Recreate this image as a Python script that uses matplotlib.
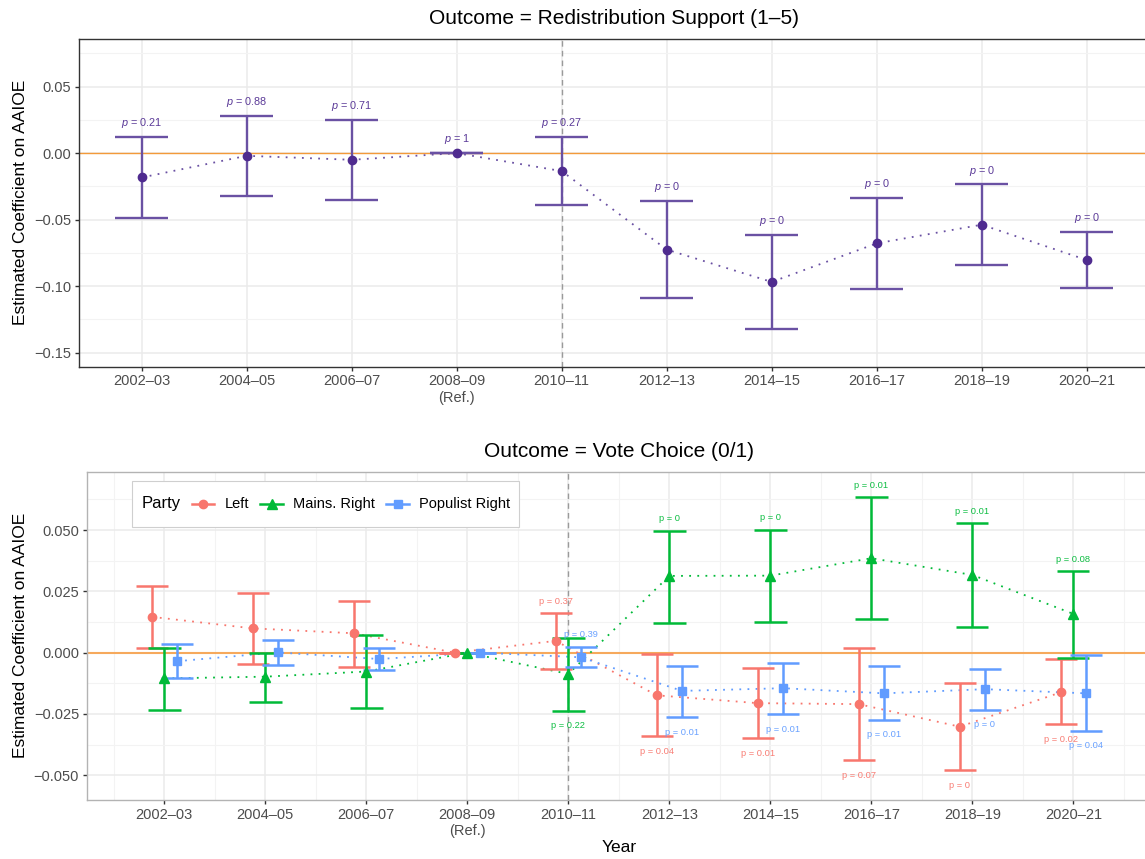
import numpy as np
import matplotlib
matplotlib.use("Agg")
import matplotlib.pyplot as plt
from matplotlib.lines import Line2D
from matplotlib.offsetbox import AnchoredOffsetbox, HPacker, TextArea, DrawingArea

plt.rcParams["font.family"] = ["Liberation Sans", "DejaVu Sans"]
plt.rcParams["mathtext.fontset"] = "custom"
plt.rcParams["mathtext.it"] = "Liberation Sans:italic"
plt.rcParams["mathtext.rm"] = "Liberation Sans"

# ── Data ────────────────────────────────────────────────────
years = ["2002–03", "2004–05", "2006–07", "2008–09\n(Ref.)", "2010–11",
         "2012–13", "2014–15", "2016–17", "2018–19", "2020–21"]

# Panel 1: redistribution support
redis_est = [-0.0183, -0.0020, -0.0050, 0.0, -0.0135, -0.0725, -0.0968, -0.0678, -0.0538, -0.0803]
redis_lo  = [-0.0485, -0.0323, -0.0350, 0.0, -0.0393, -0.1090, -0.1320, -0.1020, -0.0840, -0.1010]
redis_hi  = [0.0120, 0.0282, 0.0250, 0.0, 0.0120, -0.0360, -0.0615, -0.0335, -0.0235, -0.0595]
redis_p   = ["0.21", "0.88", "0.71", "1", "0.27", "0", "0", "0", "0", "0"]
redis_yticks = [-0.15, -0.10, -0.05, 0.00, 0.05]
redis_yticklabels = ["−0.15", "−0.10", "−0.05", "0.00", "0.05"]

# Panel 2: vote choice by party
parties = ["Left", "Mains. Right", "Populist Right"]
left_est  = [0.0146, 0.0099, 0.0079, 0.0, 0.0048, -0.0174, -0.0206, -0.0210, -0.0302, -0.0162]
left_lo   = [0.0018, -0.0046, -0.0058, 0.0, -0.0066, -0.0342, -0.0350, -0.0439, -0.0479, -0.0293]
left_hi   = [0.0271, 0.0245, 0.0209, 0.0, 0.0160, -0.0004, -0.0062, 0.0020, -0.0124, -0.0027]
left_p    = [None, None, None, None, "0.37", "0.04", "0.01", "0.07", "0", "0.02"]

mright_est = [-0.0105, -0.0098, -0.0077, 0.0, -0.0087, 0.0313, 0.0314, 0.0385, 0.0317, 0.0158]
mright_lo  = [-0.0232, -0.0202, -0.0224, 0.0, -0.0238, 0.0121, 0.0124, 0.0137, 0.0106, -0.0022]
mright_hi  = [0.0018, 0.0000, 0.0073, 0.0, 0.0061, 0.0496, 0.0501, 0.0633, 0.0527, 0.0332]
mright_p   = [None, None, None, None, "0.22", "0", "0", "0.01", "0.01", "0.08"]

pright_est = [-0.0035, 0.0001, -0.0026, 0.0, -0.0019, -0.0156, -0.0145, -0.0166, -0.0149, -0.0166]
pright_lo  = [-0.0104, -0.0050, -0.0071, 0.0, -0.0058, -0.0263, -0.0251, -0.0274, -0.0232, -0.0318]
pright_hi  = [0.0034, 0.0052, 0.0019, 0.0, 0.0025, -0.0055, -0.0043, -0.0054, -0.0068, -0.0009]
pright_p   = [None, None, None, None, "0.39", "0.01", "0.01", "0.01", "0", "0.04"]

vote_yticks = [-0.050, -0.025, 0.000, 0.025, 0.050]
vote_yticklabels = ["−0.050", "−0.025", "0.000", "0.025", "0.050"]

# ── Style ───────────────────────────────────────────────────
PURPLE_BAR = "#6a51a3"
PURPLE_PT  = "#4f2b8f"
ORANGE     = "#f39a3a"
party_cols = ["#F8766D", "#00BA38", "#619CFF"]
party_mk   = ["o", "^", "s"]
party_ms   = [6, 7, 6]
party_dodge = [-0.125, 0.0, 0.125]
# label side per year index: +1 above cap, -1 below cap
party_side = [[-1, -1, -1, -1, 1, -1, -1, -1, -1, -1],
              [1, 1, 1, 1, -1, 1, 1, 1, 1, 1],
              [-1, -1, -1, -1, 1, -1, -1, -1, -1, -1]]
TICK_TXT = "#4d4d4d"
GRID_MAJ = "#ebebeb"
GRID_MIN = "#f3f3f3"
DOT = (0, (1, 3.5))

W, H = 1145, 859
fig = plt.figure(figsize=(W / 100, H / 100), dpi=100)
ax1 = fig.add_axes([78.7 / W, 1 - 366.7 / H, 1071 / W, 328 / H])
ax2 = fig.add_axes([86.7 / W, 1 - 800 / H, 1064.3 / W, 328.3 / H])

x = np.arange(1, len(years) + 1)


def style_axes(ax, spine_col, xminor):
    ax.set_facecolor("white")
    for s in ax.spines.values():
        s.set_color(spine_col)
        s.set_linewidth(1.0)
    ax.set_xticks(x)
    ax.set_xticklabels(years)
    if xminor:
        ax.set_xticks(np.arange(0.5, len(years) + 1, 1.0), minor=True)
    ax.grid(True, which="major", color=GRID_MAJ, lw=1.1, zorder=0)
    ax.grid(True, which="minor", color=GRID_MIN, lw=0.8, zorder=0)
    ax.set_axisbelow(True)
    ax.tick_params(which="major", length=3, width=1, color="#333333",
                   labelsize=10.5, labelcolor=TICK_TXT, pad=2.5)
    ax.tick_params(which="minor", length=0)


# ── Panel 1 ─────────────────────────────────────────────────
ax = ax1
style_axes(ax, "#333333", xminor=False)
ax.set_yticks(redis_yticks)
ax.set_yticklabels(redis_yticklabels)
ax.set_yticks(np.arange(-0.125, 0.09, 0.05), minor=True)
ax.set_xlim(0.4, 10.6)
ax.set_ylim(-0.1605, 0.086)
ax.axhline(0, color=ORANGE, lw=1.0, zorder=1)
ax.axvline(5, color="#9a9a9a", lw=1.0, ls=(0, (4, 3)), zorder=1)
ax.plot(x, redis_est, color=PURPLE_BAR, lw=1.3, ls=DOT, zorder=2)
ax.vlines(x, redis_lo, redis_hi, color=PURPLE_BAR, lw=1.7, zorder=3)
ax.hlines(redis_lo, x - 0.25, x + 0.25, color=PURPLE_BAR, lw=1.7, zorder=3)
ax.hlines(redis_hi, x - 0.25, x + 0.25, color=PURPLE_BAR, lw=1.7, zorder=3)
ax.plot(x, redis_est, "o", color=PURPLE_PT, ms=6, zorder=4)
for xi, hi, p in zip(x, redis_hi, redis_p):
    ax.annotate(r"$p$ = " + p, (xi, hi), xytext=(0, 10), textcoords="offset points",
                ha="center", va="center", fontsize=7.8, color="#5b3a98")
ax.text(0.5, 1.063, "Outcome = Redistribution Support (1–5)", transform=ax.transAxes,
        ha="center", va="center", fontsize=15)
ax.set_ylabel("Estimated Coefficient on AAIOE", fontsize=12.5)
ax.yaxis.set_label_coords(-0.047, 0.5)

# ── Panel 2 ─────────────────────────────────────────────────
ax = ax2
style_axes(ax, "#b3b3b3", xminor=True)
ax.set_yticks(vote_yticks)
ax.set_yticklabels(vote_yticklabels)
ax.set_yticks(np.arange(-0.0375, 0.07, 0.025), minor=True)
ax.set_xlim(0.231, 10.769)
ax.set_ylim(-0.0601, 0.0738)
ax.axhline(0, color="#f6a95c", lw=1.5, zorder=1)
ax.axvline(5, color="#9a9a9a", lw=1.0, ls=(0, (4, 3)), zorder=1)

series = [(left_est, left_lo, left_hi, left_p),
          (mright_est, mright_lo, mright_hi, mright_p),
          (pright_est, pright_lo, pright_hi, pright_p)]
for k, (est, lo, hi, pv) in enumerate(series):
    col = party_cols[k]
    xd = x + party_dodge[k]
    est, lo, hi = np.array(est), np.array(lo), np.array(hi)
    ax.plot(xd, est, color=col, lw=1.3, ls=DOT, zorder=2)
    ax.vlines(xd, lo, hi, color=col, lw=1.8, zorder=3)
    ax.hlines(lo, xd - 0.16, xd + 0.16, color=col, lw=1.8, zorder=3)
    ax.hlines(hi, xd - 0.16, xd + 0.16, color=col, lw=1.8, zorder=3)
    ax.plot(xd, est, party_mk[k], color=col, ms=party_ms[k], zorder=4)
    for i, p in enumerate(pv):
        if p is None:
            continue
        side = party_side[k][i]
        yv = hi[i] if side > 0 else lo[i]
        off = 8.8 if side > 0 else -10.8
        ax.annotate("p = " + p, (xd[i], yv), xytext=(0, off), textcoords="offset points",
                    ha="center", va="center", fontsize=6.7, color=col, alpha=0.95)

ax.text(0.5, 1.063, "Outcome = Vote Choice (0/1)", transform=ax.transAxes,
        ha="center", va="center", fontsize=15)
ax.text(0.5, -0.146, "Year", transform=ax.transAxes, ha="center", va="center", fontsize=12.5)
ax.set_ylabel("Estimated Coefficient on AAIOE", fontsize=12.5)
ax.yaxis.set_label_coords(-0.0547, 0.5)

# legend: title on the left, entries in one row
items = [TextArea("Party", textprops=dict(fontsize=12))]
for name, col, mk, ms in zip(parties, party_cols, party_mk, party_ms):
    da = DrawingArea(16.3, 20, 0, 0)
    da.add_artist(Line2D([0, 16.3], [10, 10], color=col, lw=1.8))
    da.add_artist(Line2D([8.15], [10], marker=mk, color=col, ms=ms, lw=0))
    items.append(HPacker(children=[da, TextArea(name, textprops=dict(fontsize=10.5))],
                         sep=7.2, align="center", pad=0))
row = HPacker(children=items, sep=8.2, align="center", pad=0)
leg = AnchoredOffsetbox(loc="upper left", child=row, pad=0.65, borderpad=0,
                        bbox_to_anchor=(0.0428, 0.9717), bbox_transform=ax.transAxes,
                        frameon=True, prop=dict(size=10))
leg.patch.set_edgecolor("#cfcfcf")
leg.patch.set_linewidth(0.8)
leg.patch.set_facecolor("white")
leg.set_zorder(6)
ax.add_artist(leg)

plt.savefig("out.png", dpi=100)
plt.close()
